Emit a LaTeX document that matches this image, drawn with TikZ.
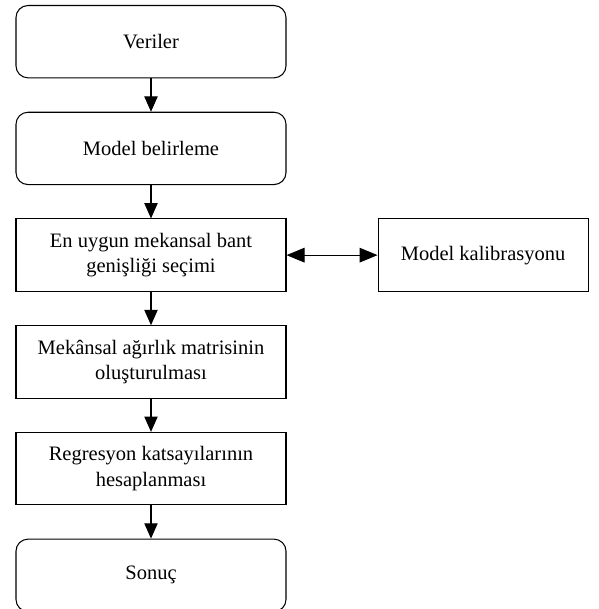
\documentclass[tikz,border=0pt]{standalone}
\usepackage{fontspec}
\setmainfont{Liberation Serif}
\usetikzlibrary{positioning,arrows.meta}

\begin{document}
\begin{tikzpicture}[
    node distance=1cm,
    box/.style={rectangle, draw, line width=0.9pt, minimum width=8.1cm, minimum height=2.17cm, align=center, font=\fontsize{17.5}{21.5}\selectfont},
    roundbox/.style={box, rounded corners=0.36cm},
    flow/.style={-{Triangle[length=4.6mm,width=4mm]}, line width=0.9pt}
]
    \useasboundingbox (0,0) rectangle (17.94,-18.27);
    \node[roundbox, anchor=north] (veri) at (4.53,-0.15) {Veriler};
    \node[roundbox, below=of veri] (model) {Model belirleme};
    \node[box, below=of model] (bant) {En uygun mekansal bant\\genişliği seçimi};
    \node[box, minimum width=6.3cm, right=2.73cm of bant] (kalib) {Model kalibrasyonu};
    \node[box, below=of bant] (matris) {Mekânsal ağırlık matrisinin\\oluşturulması};
    \node[box, below=of matris] (regr) {Regresyon katsayılarının\\hesaplanması};
    \node[roundbox, below=of regr] (sonuc) {Sonuç};

    \draw[flow] (veri) -- (model);
    \draw[flow] (model) -- (bant);
    \draw[flow] (bant) -- (matris);
    \draw[flow] (matris) -- (regr);
    \draw[flow] (regr) -- (sonuc);

    % Kalibrasyon
    \draw[{Triangle[length=5.4mm,width=4.4mm]}-{Triangle[length=5.4mm,width=4.4mm]}, line width=0.9pt] (bant) -- (kalib);
\end{tikzpicture}
\end{document}
